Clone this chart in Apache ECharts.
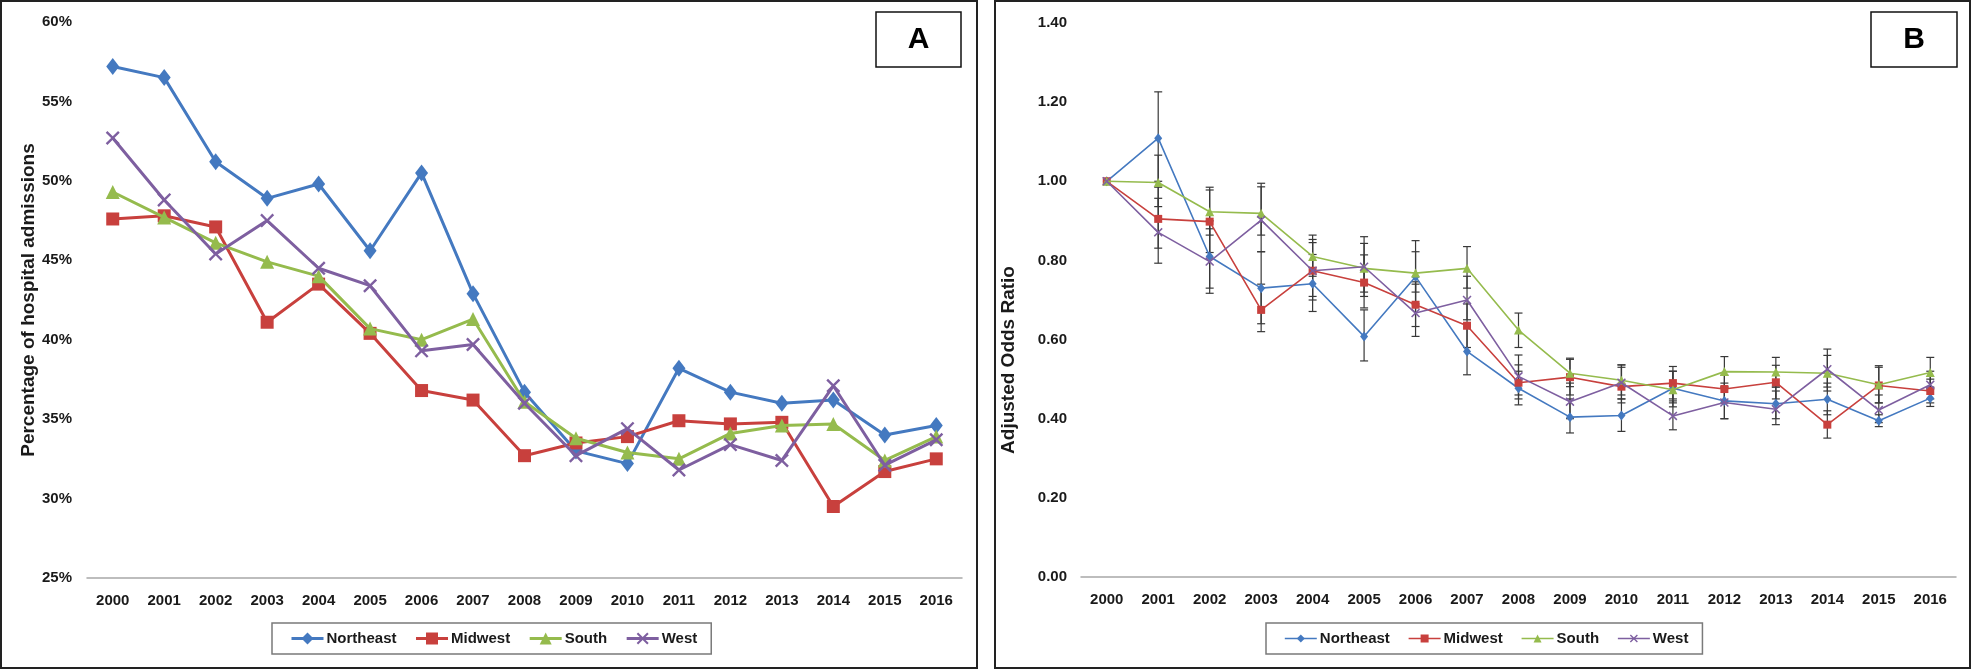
<!DOCTYPE html>
<html><head><meta charset="utf-8">
<script src="https://cdn.jsdelivr.net/npm/echarts@6/dist/echarts.min.js"></script>
<style>html,body{margin:0;padding:0;background:#fff}#c{width:1974px;height:670px}</style>
</head><body><div id="c"></div>
<script>
const years = ['2000','2001','2002','2003','2004','2005','2006','2007','2008','2009','2010','2011','2012','2013','2014','2015','2016'];
const regions = ['Northeast','Midwest','South','West'];
const yTicksA = [25, 60, 5];      // min, max, step (%)
const yTicksB = [0, 1.4, 0.2];    // min, max, step

// Panel A: percentage of hospital admissions (%)
const pctNortheast = [57.2,56.5,51.2,48.9,49.8,45.6,50.5,42.9,36.7,33.0,32.2,38.2,36.7,36.0,36.2,34.0,34.6];
const pctMidwest   = [47.6,47.8,47.1,41.1,43.5,40.4,36.8,36.2,32.7,33.5,33.9,34.9,34.7,34.8,29.5,31.7,32.5];
const pctSouth     = [49.3,47.7,46.1,44.9,44.0,40.7,40.0,41.3,36.1,33.8,32.9,32.5,34.1,34.6,34.7,32.4,33.9];
const pctWest      = [52.7,48.8,45.4,47.5,44.5,43.4,39.3,39.7,36.0,32.7,34.4,31.8,33.4,32.4,37.1,32.1,33.7];

// Panel B: adjusted odds ratio with confidence limits
const orNortheast = [1.00,1.109,0.810,0.730,0.741,0.608,0.759,0.570,0.477,0.404,0.408,0.477,0.445,0.438,0.449,0.395,0.452];
const orMidwest   = [1.00,0.905,0.898,0.675,0.774,0.744,0.688,0.635,0.491,0.505,0.481,0.490,0.475,0.492,0.385,0.484,0.470];
const orSouth     = [1.00,0.997,0.923,0.919,0.810,0.780,0.768,0.780,0.624,0.515,0.497,0.473,0.519,0.518,0.515,0.486,0.517];
const orWest      = [1.00,0.871,0.797,0.902,0.774,0.784,0.667,0.700,0.507,0.443,0.491,0.407,0.441,0.424,0.525,0.422,0.486];

const neLow  = [null,1.000,0.730,0.640,0.671,0.546,0.690,0.511,0.435,0.364,0.368,0.440,0.400,0.400,0.410,0.380,0.431];
const neHigh = [null,1.226,0.900,0.822,0.815,0.675,0.850,0.640,0.520,0.450,0.450,0.520,0.490,0.480,0.490,0.410,0.475];
const mwLow  = [null,0.831,0.820,0.620,0.709,0.680,0.633,0.580,0.450,0.460,0.440,0.450,0.440,0.450,0.351,0.440,0.440];
const mwHigh = [null,0.985,0.978,0.740,0.853,0.814,0.746,0.690,0.536,0.550,0.530,0.532,0.510,0.535,0.420,0.530,0.500];
const soLow  = [null,0.936,0.864,0.864,0.760,0.720,0.720,0.730,0.580,0.481,0.460,0.430,0.480,0.480,0.470,0.440,0.480];
const soHigh = [null,1.066,0.985,0.995,0.864,0.843,0.822,0.835,0.667,0.553,0.536,0.520,0.557,0.555,0.560,0.534,0.555];
const wLow   = [null,0.793,0.717,0.822,0.700,0.709,0.608,0.650,0.460,0.400,0.450,0.372,0.400,0.385,0.480,0.390,0.450];
const wHigh  = [null,0.957,0.880,0.986,0.845,0.860,0.740,0.760,0.561,0.490,0.536,0.445,0.480,0.470,0.576,0.460,0.520];

const colors = ['#4479C0','#C8403D','#95BB4D','#7E5FA0'];
const symbols = ['diamond','rect','triangle','path://M0,1.2L1.2,0L5,3.8L8.8,0L10,1.2L6.2,5L10,8.8L8.8,10L5,6.2L1.2,10L0,8.8L3.8,5Z'];
const FONT = "'Liberation Sans',Arial,sans-serif";
const TXT = '#1a1a1a';

const chart = echarts.init(document.getElementById('c'), null, {renderer:'canvas'});

function errRender(params, api){
  const i = api.value(0);
  const lo = api.coord([i, api.value(1)]);
  const hi = api.coord([i, api.value(2)]);
  const w = 4;
  const st = {stroke:'#383838', lineWidth:1.2};
  return {type:'group', children:[
    {type:'line', shape:{x1:lo[0],y1:lo[1],x2:hi[0],y2:hi[1]}, style:st},
    {type:'line', shape:{x1:lo[0]-w,y1:lo[1],x2:lo[0]+w,y2:lo[1]}, style:st},
    {type:'line', shape:{x1:hi[0]-w,y1:hi[1],x2:hi[0]+w,y2:hi[1]}, style:st}
  ]};
}
function errData(lo, hi){
  const out = [];
  lo.forEach((v,i)=>{ if(v!=null) out.push([i, v, hi[i]]); });
  return out;
}

const xAxisBase = (gi)=>({
  type:'category', gridIndex:gi, data:years, boundaryGap:true,
  axisLine:{lineStyle:{color:'#A8A8A8', width:1.5}},
  axisTick:{show:false},
  axisLabel:{interval:0, color:TXT, fontFamily:FONT, fontWeight:'bold', fontSize:15, margin:15}
});

const pctSeries = [pctNortheast, pctMidwest, pctSouth, pctWest];
const orSeries = [orNortheast, orMidwest, orSouth, orWest];
const errSeries = [[neLow,neHigh],[mwLow,mwHigh],[soLow,soHigh],[wLow,wHigh]];
const symSizeA = [[13,17],13,14,14];
const symSizeB = [[8,10],8,9,9];

const series = [];
regions.forEach((r,k)=>{
  series.push({
    name:r, type:'line', xAxisIndex:0, yAxisIndex:0, data:pctSeries[k],
    symbol:symbols[k], symbolSize:symSizeA[k], showAllSymbol:true,
    lineStyle:{color:colors[k], width:3}, itemStyle:{color:colors[k]},
    z:3+k, animation:false
  });
});
regions.forEach((r,k)=>{
  series.push({
    name:r+' CI', type:'custom', xAxisIndex:1, yAxisIndex:1,
    data:errData(errSeries[k][0], errSeries[k][1]),
    encode:{x:0, y:[1,2]}, renderItem:errRender, z:2, animation:false, silent:true
  });
});
regions.forEach((r,k)=>{
  series.push({
    name:r, type:'line', xAxisIndex:1, yAxisIndex:1, data:orSeries[k],
    symbol:symbols[k], symbolSize:symSizeB[k], showAllSymbol:true,
    lineStyle:{color:colors[k], width:1.6}, itemStyle:{color:colors[k]},
    z:3+k, animation:false
  });
});

const legendBase = (left, ih, lw)=>({
  show:true, left:left, top:623, orient:'horizontal',
  data:regions.map(n=>({name:n})),
  itemWidth:32, itemHeight:ih, itemGap:18,
  lineStyle:{width:lw},
  padding:[8,14,8,18],
  borderColor:'#7a7a7a', borderWidth:1.5, backgroundColor:'#fff',
  selectedMode:false,
  textStyle:{color:TXT, fontFamily:FONT, fontWeight:'bold', fontSize:15, padding:[0,0,0,-2]}
});

chart.setOption({
  backgroundColor:'#fff',
  animation:false,
  grid:[
    {left:87, top:22, width:875, height:556},
    {left:1081, top:23, width:875, height:554}
  ],
  xAxis:[xAxisBase(0), xAxisBase(1)],
  yAxis:[
    {type:'value', gridIndex:0, min:yTicksA[0], max:yTicksA[1], interval:yTicksA[2],
     splitLine:{show:false}, axisLine:{show:false}, axisTick:{show:false},
     axisLabel:{color:TXT, fontFamily:FONT, fontWeight:'bold', fontSize:15, margin:15, formatter:'{value}%'},
     name:'Percentage of hospital admissions', nameLocation:'middle', nameGap:47, nameRotate:90,
     nameTextStyle:{color:TXT, fontFamily:FONT, fontWeight:'bold', fontSize:19}},
    {type:'value', gridIndex:1, min:yTicksB[0], max:yTicksB[1], interval:yTicksB[2],
     splitLine:{show:false}, axisLine:{show:false}, axisTick:{show:false},
     axisLabel:{color:TXT, fontFamily:FONT, fontWeight:'bold', fontSize:15, margin:14, formatter:v=>v.toFixed(2)},
     name:'Adjusted Odds Ratio', nameLocation:'middle', nameGap:63, nameRotate:90,
     nameTextStyle:{color:TXT, fontFamily:FONT, fontWeight:'bold', fontSize:19, padding:[0,120,0,0]}}
  ],
  legend:[legendBase(272, 15, 3), legendBase(1266, 10, 1.6)],
  graphic:[
    {type:'rect', shape:{x:1, y:1, width:976, height:667}, style:{fill:null, stroke:'#222', lineWidth:2}, silent:true, z:100},
    {type:'rect', shape:{x:995, y:1, width:975, height:667}, style:{fill:null, stroke:'#222', lineWidth:2}, silent:true, z:100},
    {type:'rect', shape:{x:876, y:12, width:85, height:55}, style:{fill:'#fff', stroke:'#111', lineWidth:1.5}, silent:true, z:100},
    {type:'text', x:918.5, y:39.5, style:{text:'A', fill:'#000', font:"bold 30px 'Liberation Sans',Arial,sans-serif", textAlign:'center', textVerticalAlign:'middle'}, silent:true, z:101},
    {type:'rect', shape:{x:1871, y:12, width:86, height:55}, style:{fill:'#fff', stroke:'#111', lineWidth:1.5}, silent:true, z:100},
    {type:'text', x:1914, y:39.5, style:{text:'B', fill:'#000', font:"bold 30px 'Liberation Sans',Arial,sans-serif", textAlign:'center', textVerticalAlign:'middle'}, silent:true, z:101}
  ],
  series:series
});
</script></body></html>
